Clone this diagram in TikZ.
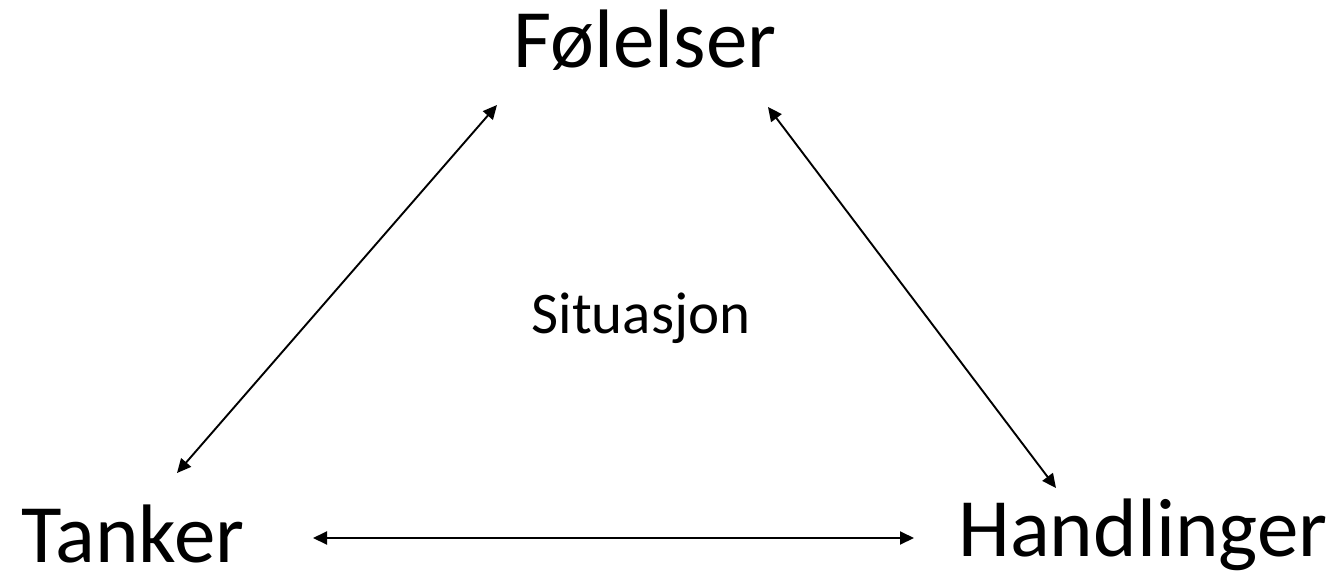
\documentclass[tikz,border=0pt]{standalone}
\usepackage{fontspec}
\setmainfont{Carlito}
\usetikzlibrary{arrows.meta}
\begin{document}
\begin{tikzpicture}[x=1pt,y=-1pt,
  big/.style={inner sep=0pt,anchor=base,text depth=0pt,font=\fontsize{83}{90}\selectfont},
  mid/.style={inner sep=0pt,anchor=base,font=\fontsize{59}{64}\selectfont},
  link/.style={line width=1.9pt,{Triangle[length=14pt,width=13pt]}-{Triangle[length=14pt,width=13pt]}}]
\useasboundingbox (0,0) rectangle (1341,575);
\node[big] (fol) at (645,68) {Følelser};
\node[big] (tan) at (133,562) {Tanker};
\node[big, text depth=17pt] (han) at (1143,556) {Handlinger};
\node[mid] (sit) at (641,333) {Situasjon};
\coordinate (a1) at (497,105);
\coordinate (a2) at (177,473);
\coordinate (b1) at (768,107);
\coordinate (b2) at (1056,488);
\coordinate (c1) at (313,538);
\coordinate (c2) at (914,538);
\draw[link] (a1) -- (a2);
\draw[link] (b1) -- (b2);
\draw[link] (c1) -- (c2);
\end{tikzpicture}
\end{document}
